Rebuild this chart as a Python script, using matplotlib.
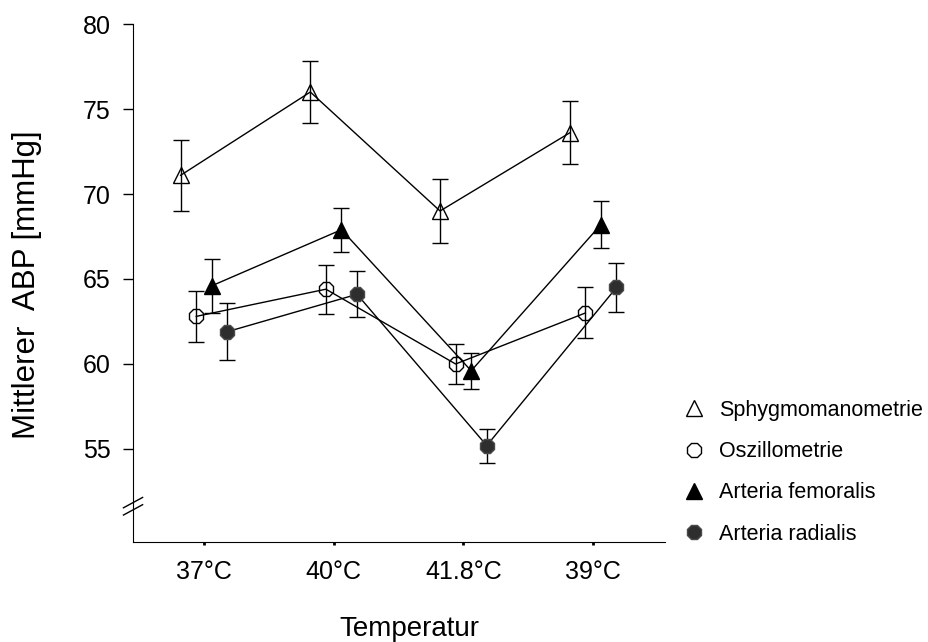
import matplotlib
matplotlib.use('Agg')
import matplotlib.pyplot as plt
from matplotlib.lines import Line2D

plt.rcParams['font.family'] = ['Liberation Sans', 'DejaVu Sans']

temps = ['37°C', '40°C', '41.8°C', '39°C']

sphygmo = [71.1, 76.0, 69.0, 73.6]
sphygmo_err = [2.1, 1.85, 1.9, 1.85]

oszillo = [62.8, 64.4, 60.0, 63.0]
oszillo_err = [1.5, 1.45, 1.2, 1.5]

femoralis = [64.6, 67.9, 59.6, 68.2]
femoralis_err = [1.6, 1.3, 1.05, 1.4]

radialis = [61.9, 64.1, 55.2, 64.5]
radialis_err = [1.68, 1.35, 1.0, 1.42]

fig = plt.figure(figsize=(9.29, 6.42), dpi=100)
ax = fig.add_axes([0.1432, 0.1558, 0.5726, 0.8068])

pos = range(len(temps))

series = [
    (sphygmo, sphygmo_err, -0.18, dict(marker='^', ms=12, mfc='none', mec='black'), 'Sphygmomanometrie'),
    (oszillo, oszillo_err, -0.06, dict(marker='8', ms=11.5, mfc='none', mec='black'), 'Oszillometrie'),
    (femoralis, femoralis_err, 0.06, dict(marker='^', ms=12, mfc='black', mec='black'), 'Arteria femoralis'),
    (radialis, radialis_err, 0.18, dict(marker='8', ms=11, mfc='#2e2e2e', mec='#4a4a4a'), 'Arteria radialis'),
]

handles = []
for vals, errs, off, mk, name in series:
    xs = [p + off for p in pos]
    ax.errorbar(xs, vals, yerr=errs, fmt='none', ecolor='black', elinewidth=1,
                capsize=6, capthick=1, zorder=2)
    ax.plot(xs, vals, color='black', lw=1, zorder=3, **mk)
    handles.append(Line2D([], [], linestyle='none', label=name, **mk))

ax.set_xlim(-0.547, 3.554)
ax.set_ylim(49.53, 80)
ax.set_xticks(list(pos))
ax.set_xticklabels(temps)
ax.set_yticks([55, 60, 65, 70, 75, 80])

ax.spines['top'].set_visible(False)
ax.spines['right'].set_visible(False)
ax.spines['left'].set_bounds(49.53, 80)
ax.tick_params(axis='y', direction='out', length=7.2, width=1, pad=9, labelsize=18)
ax.tick_params(axis='x', direction='out', length=2.2, width=2, pad=11, labelsize=18)

# break marks on the y axis
ax.plot([-0.075, -0.075], [0.06, 0.082], transform=ax.transAxes, color='white',
        lw=3, clip_on=False, zorder=5, solid_capstyle='butt')
for dy in (0.0, 0.014):
    ax.plot([-0.018, 0.018], [0.052 + dy, 0.072 + dy], transform=ax.transAxes,
            color='black', lw=1, clip_on=False, zorder=6)

ax.set_xlabel('Temperatur', fontsize=20)
ax.xaxis.set_label_coords(0.52, -0.143)
ax.set_ylabel('Mittlerer  ABP [mmHg]', fontsize=22.5)
ax.yaxis.set_label_coords(-0.172, 0.497)

fig.legend(handles=handles, loc='upper left', bbox_to_anchor=(0.728, 0.391),
           frameon=False, fontsize=15.5, handlelength=0.8, handletextpad=0.8,
           labelspacing=0.95, borderaxespad=0)

fig.savefig('out.png', dpi=100)
